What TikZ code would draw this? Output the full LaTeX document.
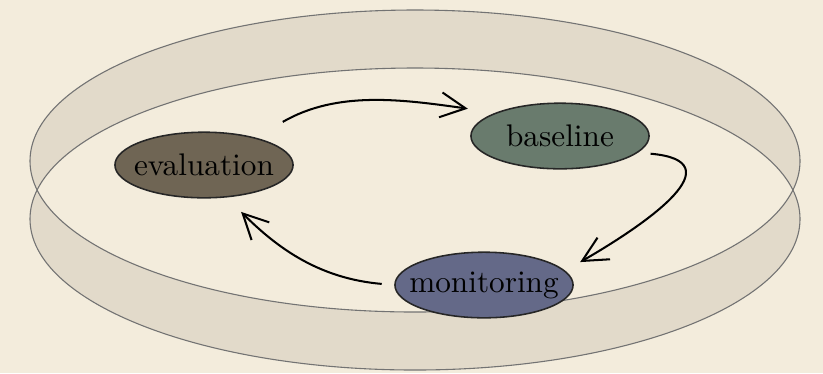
\documentclass[tikz,border=0pt]{standalone}
\usepackage{tikz}
\usetikzlibrary{shapes.geometric,arrows.meta}

\definecolor{paper}{RGB}{243,236,220}
\definecolor{rim}{RGB}{226,218,202}
\definecolor{evalcol}{RGB}{111,101,84}
\definecolor{basecol}{RGB}{105,123,109}
\definecolor{moncol}{RGB}{100,105,136}

\tikzset{
  stage/.style={ellipse, draw=black!85, line width=0.5pt, inner sep=0pt,
    minimum width=57pt, minimum height=21pt},
  pencil/.style={draw=black!55, line width=0.35pt},
  flow/.style={-{Straight Barb[length=8pt,width=8pt]}, line width=0.65pt}
}

\begin{document}
\begin{tikzpicture}[x=0.32pt,y=-0.32pt]

\fill[paper] (0,0) rectangle (823,373);
\useasboundingbox (0,0) rectangle (823,373);

\fill[rim, even odd rule] (415,161) ellipse [x radius=385, y radius=151]
  (415,219) ellipse [x radius=385, y radius=151];
\draw[pencil] (415,161) ellipse [x radius=385, y radius=151];
\draw[pencil] (415,219) ellipse [x radius=385, y radius=151];

\node[stage, fill=evalcol] (eval) at (204,165) {\makebox[0pt]{evaluation}};
\node[stage, fill=basecol] (base) at (560,136) {\makebox[0pt]{baseline}};
\node[stage, fill=moncol] (mon) at (484,285) {\makebox[0pt]{monitoring}};

\draw[flow, shorten <=10pt, shorten >=9pt] (eval.28) to[out=30,in=172] (base.160);
\draw[flow, shorten <=4pt, shorten >=5.5pt] (base.-12) to[out=-5,in=30,looseness=1.8] (mon.10);
\draw[flow, shorten <=4pt, shorten >=6.5pt] (mon.180) to[out=175,in=-45] (eval.-55);

\end{tikzpicture}
\end{document}
